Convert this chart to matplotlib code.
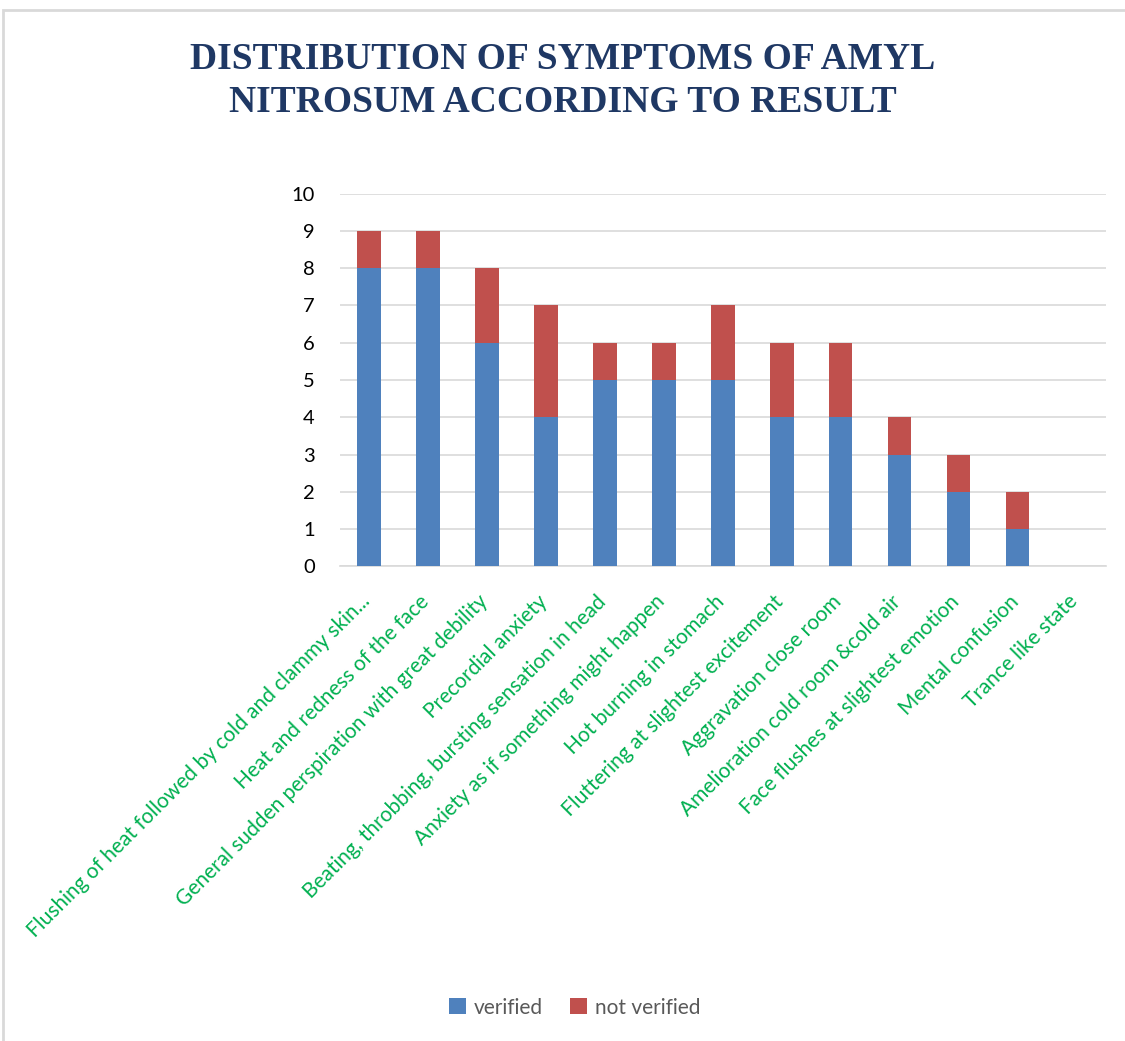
import matplotlib.pyplot as plt
import matplotlib.transforms as mtransforms
import numpy as np
from matplotlib.patches import Rectangle

symptoms = [
    "Flushing of heat followed by cold and clammy skin...",
    "Heat and redness of the face",
    "General sudden perspiration with great debility",
    "Precordial anxiety",
    "Beating, throbbing, bursting sensation in head",
    "Anxiety as if something might happen",
    "Hot burning in stomach",
    "Fluttering at slightest excitement",
    "Aggravation close room",
    "Amelioration cold room &cold air",
    "Face flushes at slightest emotion",
    "Mental confusion",
    "Trance like state",
]
verified = [8, 8, 6, 4, 5, 5, 5, 4, 4, 3, 2, 1, 0]
not_verified = [1, 1, 2, 3, 1, 1, 2, 2, 2, 1, 1, 1, 0]
y_ticks = list(range(0, 11))

sans = 'Lato'

fig = plt.figure(figsize=(11.25, 10.41), dpi=100)
ax = fig.add_axes([0.302, 0.456, 0.681, 0.358])

x = np.arange(len(symptoms))
ax.bar(x, verified, width=0.4, color='#4F81BD', label='verified', zorder=3)
ax.bar(x, not_verified, width=0.4, bottom=verified, color='#C0504D',
       label='not verified', zorder=3)

ax.set_ylim(0, 10)
ax.set_xlim(-0.5, len(symptoms) - 0.5)
ax.set_yticks(y_ticks)
ax.tick_params(axis='y', length=0, labelsize=14.5, pad=18)
ax.tick_params(axis='x', length=0, pad=18)
ax.grid(axis='y', color='#D9D9D9', linewidth=1.2, zorder=0)
for side in ['top', 'right', 'left']:
    ax.spines[side].set_visible(False)
ax.spines['bottom'].set_color('#D9D9D9')
ax.spines['bottom'].set_linewidth(1.2)
ax.set_xticks(x)
ax.set_xticklabels(symptoms, rotation=45, ha='right', rotation_mode='anchor',
                   color='#00B050', fontsize=15, family=sans)
shift = mtransforms.ScaledTranslation(-9 / 100, 0, fig.dpi_scale_trans)
for lbl in ax.get_xticklabels():
    lbl.set_transform(lbl.get_transform() + shift)
for lbl in ax.get_yticklabels():
    lbl.set_family(sans)

fig.text(0.5, 0.922, 'DISTRIBUTION OF SYMPTOMS OF AMYL\nNITROSUM ACCORDING TO RESULT',
         ha='center', va='center', fontsize=27, fontweight='bold',
         family='Liberation Serif', color='#1F3864', linespacing=1.29)

leg = fig.legend(loc='center', bbox_to_anchor=(0.511, 0.032), ncol=2, frameon=False,
                 handlelength=0.8, handleheight=0.8, columnspacing=1.3,
                 handletextpad=0.4, prop={'family': sans, 'size': 15})
for t in leg.get_texts():
    t.set_color('#595959')

fig.patches.append(Rectangle((0.003, -0.01), 1.0, 1.0004, transform=fig.transFigure,
                             fill=False, edgecolor='#D9D9D9', linewidth=2))

fig.savefig('out.png', dpi=100)
